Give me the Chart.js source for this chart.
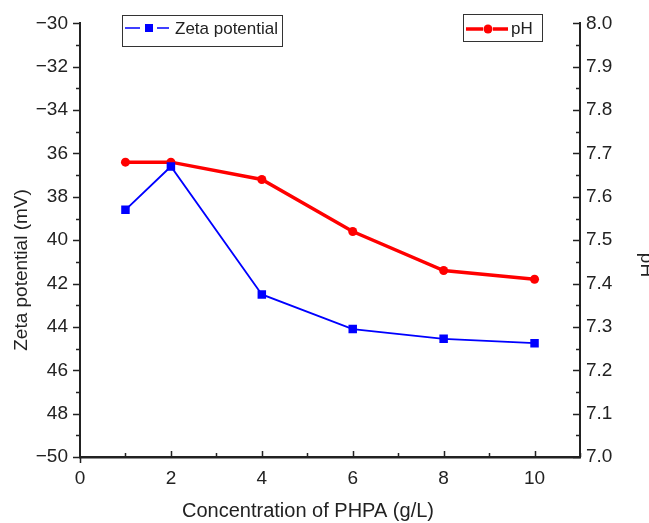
<!DOCTYPE html>
<html>
<head>
<meta charset="utf-8">
<script src="https://cdn.jsdelivr.net/npm/chart.js@4"></script>
<style>
	html, body { margin: 0; padding: 0; background: #fff; }
	#wrap { width: 649px; height: 523px; position: relative; }
</style>
</head>
<body>
<div id="wrap"><canvas id="chart"></canvas></div>
<script>
// data
const concentration = [1, 2, 4, 6, 8, 10];
const zetaPotential = [-38.6, -36.6, -42.5, -44.1, -44.55, -44.75];
const phValues = [7.68, 7.68, 7.64, 7.52, 7.43, 7.41];

// tick labels as printed in the original (minus signs missing on some)
const zetaTickLabels = ['\u221250', '48', '46', '44', '42', '40', '38', '36', '\u221234', '\u221232', '\u221230'];
const phTickLabels = ['7.0', '7.1', '7.2', '7.3', '7.4', '7.5', '7.6', '7.7', '7.8', '7.9', '8.0'];
const xTickLabels = ['0', '2', '4', '6', '8', '10'];

const FONT = '"Liberation Sans", Arial, sans-serif';
const INK = '#222';

// tick marks (major + minor) drawn against the chart's own scales
const tickMarks = {
	id: 'tickMarks',
	afterDraw(chart) {
		const ctx = chart.ctx;
		const { x, y, y2 } = chart.scales;
		ctx.save();
		ctx.strokeStyle = INK;
		ctx.lineWidth = 1.5;
		ctx.beginPath();
		for (let v = -50; v <= -30; v += 1) {
			const py = Math.round(y.getPixelForValue(v)) + 0.5;
			const len = (v % 2 === 0) ? 7 : 4;
			ctx.moveTo(x.left, py); ctx.lineTo(x.left - len, py);
		}
		for (let i = 0; i <= 20; i++) {
			const v = 7 + i * 0.05;
			const py = Math.round(y2.getPixelForValue(v)) + 0.5;
			const len = (i % 2 === 0) ? 7 : 4;
			ctx.moveTo(x.right, py); ctx.lineTo(x.right - len, py);
		}
		for (let v = 0; v <= 11; v += 1) {
			const px = Math.round(x.getPixelForValue(v)) + 0.5;
			const len = (v % 2 === 0) ? 6 : 4;
			if (v === 0) { ctx.moveTo(px, y.bottom); ctx.lineTo(px, y.bottom + 6); continue; }
			ctx.moveTo(px, y.bottom); ctx.lineTo(px, y.bottom - len);
		}
		ctx.stroke();
		ctx.restore();
	}
};

// axis titles, placed where the original has them (not centred on the plot)
const axisTitles = {
	id: 'axisTitles',
	afterDraw(chart) {
		const ctx = chart.ctx;
		ctx.save();
		ctx.fillStyle = INK;
		ctx.textAlign = 'center';
		ctx.textBaseline = 'middle';

		ctx.font = '20px ' + FONT;
		ctx.fillText('Concentration of PHPA (g/L)', 308, 511);

		ctx.font = '19px ' + FONT;
		ctx.save();
		ctx.translate(22, 270);
		ctx.rotate(-Math.PI / 2);
		ctx.fillText('Zeta potential (mV)', 0, 0);
		ctx.restore();

		ctx.save();
		ctx.translate(646, 265);
		ctx.rotate(Math.PI / 2);
		ctx.fillText('pH', 0, 0);
		ctx.restore();
		ctx.restore();
	}
};

// the two boxed legends of the original
const boxedLegends = {
	id: 'boxedLegends',
	afterDraw(chart) {
		const ctx = chart.ctx;
		ctx.save();
		ctx.font = '17px ' + FONT;
		ctx.textBaseline = 'middle';
		ctx.fillStyle = INK;
		ctx.strokeStyle = '#333';
		ctx.lineWidth = 1;

		// zeta potential
		ctx.strokeRect(122.5, 15.5, 160, 31);
		ctx.strokeStyle = '#0000ff';
		ctx.lineWidth = 1.5;
		ctx.beginPath(); ctx.moveTo(125, 28); ctx.lineTo(140, 28); ctx.moveTo(157, 28); ctx.lineTo(169, 28); ctx.stroke();
		ctx.fillStyle = '#0000ff';
		ctx.fillRect(145, 24, 8, 8);
		ctx.fillStyle = INK;
		ctx.fillText('Zeta potential', 175, 29);

		// pH
		ctx.strokeStyle = '#333';
		ctx.lineWidth = 1;
		ctx.strokeRect(463.5, 14.5, 79, 27);
		ctx.strokeStyle = '#ff0000';
		ctx.lineWidth = 3.5;
		ctx.beginPath(); ctx.moveTo(466, 29); ctx.lineTo(483, 29); ctx.moveTo(493, 29); ctx.lineTo(508, 29); ctx.stroke();
		ctx.fillStyle = '#ff0000';
		ctx.beginPath(); ctx.arc(488, 29, 4.5, 0, Math.PI * 2); ctx.fill();
		ctx.fillStyle = INK;
		ctx.fillText('pH', 511, 29);
		ctx.restore();
	}
};

const zetaPoints = concentration.map((c, i) => ({ x: c, y: zetaPotential[i] }));
const phPoints = concentration.map((c, i) => ({ x: c, y: phValues[i] }));

new Chart(document.getElementById('chart'), {
	type: 'line',
	data: {
		datasets: [{
			label: 'Zeta potential',
			data: zetaPoints,
			yAxisID: 'y',
			borderColor: '#0000ff',
			backgroundColor: '#0000ff',
			borderWidth: 1.8,
			pointStyle: 'rect',
			pointRadius: 6,
			pointBorderWidth: 0,
			tension: 0
		}, {
			label: 'pH',
			data: phPoints,
			yAxisID: 'y2',
			borderColor: '#ff0000',
			backgroundColor: '#ff0000',
			borderWidth: 3.5,
			pointStyle: 'circle',
			pointRadius: 4.5,
			pointBorderWidth: 0,
			tension: 0
		}]
	},
	options: {
		responsive: true,
		maintainAspectRatio: false,
		animation: false,
		layout: { padding: { top: 23, left: 0, right: 0, bottom: 0 } },
		plugins: {
			legend: { display: false },
			tooltip: { enabled: false }
		},
		scales: {
			x: {
				type: 'linear',
				min: 0,
				max: 11,
				grid: { display: false, drawTicks: false },
				border: { display: true, color: INK, width: 2.5 },
				ticks: {
					stepSize: 2,
					includeBounds: false,
					padding: 10,
					color: INK,
					font: { family: FONT, size: 19 },
					callback: (v) => xTickLabels[v / 2] ?? ''
				},
				afterFit: (s) => { s.height = 66; }
			},
			y: {
				position: 'left',
				min: -50,
				max: -30,
				grid: { display: false, drawTicks: false },
				border: { display: true, color: INK, width: 2 },
				ticks: {
					stepSize: 2,
					padding: 12,
					color: INK,
					font: { family: FONT, size: 19 },
					callback: (v) => zetaTickLabels[(v + 50) / 2] ?? ''
				},
				afterFit: (s) => { s.width = 80; }
			},
			y2: {
				position: 'right',
				min: 7.0,
				max: 8.0,
				grid: { display: false, drawTicks: false },
				border: { display: true, color: INK, width: 2 },
				ticks: {
					stepSize: 0.1,
					padding: 6,
					color: INK,
					font: { family: FONT, size: 19 },
					callback: (v) => phTickLabels[Math.round((v - 7) * 10)] ?? ''
				},
				afterFit: (s) => { s.width = 69; }
			}
		}
	},
	plugins: [tickMarks, axisTitles, boxedLegends]
});
</script>
</body>
</html>
